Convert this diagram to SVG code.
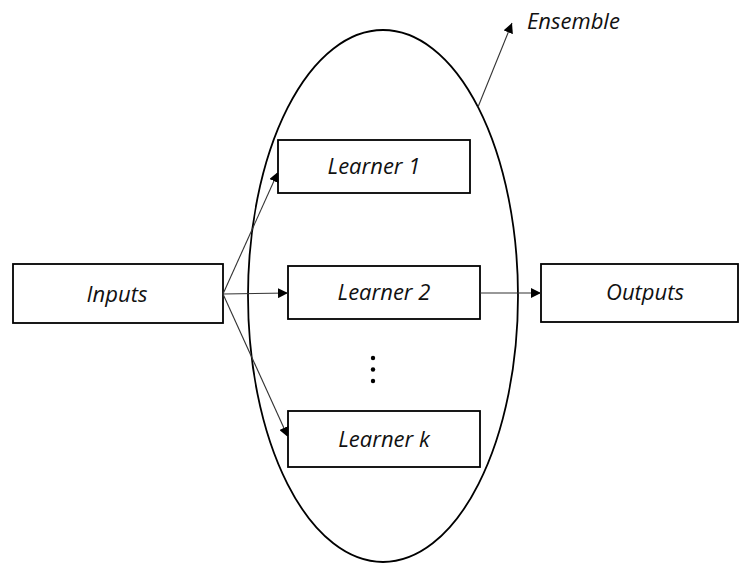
<svg xmlns="http://www.w3.org/2000/svg" width="740" height="564" viewBox="0 0 740 564">
<style>
.box{fill:#fff;stroke:#000;stroke-width:1.8}
.lbl{font-family:"Open Sans","Noto Sans",sans-serif;font-style:italic;font-size:22px;fill:#111;text-anchor:middle}
.con{stroke:#333;stroke-width:1.1;fill:none}
</style>
<defs>
<marker id="ah" viewBox="0 0 10 10" refX="10" refY="5" markerWidth="10" markerHeight="10" markerUnits="userSpaceOnUse" orient="auto">
<path d="M0,0 L10,5 L0,10 z" fill="#000"/>
</marker>
</defs>
<rect width="740" height="564" fill="#fff"/>
<g id="ensemble">
<ellipse cx="383" cy="296" rx="135" ry="266" fill="none" stroke="#000" stroke-width="1.8"/>
<text class="lbl" x="527" y="29" style="text-anchor:start">Ensemble</text>
</g>
<g id="inputs"><rect class="box" x="13" y="264" width="210" height="59"/><text class="lbl" x="117" y="302">Inputs</text></g>
<g id="learner1"><rect class="box" x="278" y="140" width="192" height="53"/><text class="lbl" x="374" y="174">Learner 1</text></g>
<g id="learner2"><rect class="box" x="288" y="266" width="192" height="53"/><text class="lbl" x="384" y="300">Learner 2</text></g>
<g id="learnerk"><rect class="box" x="288" y="411" width="192" height="56"/><text class="lbl" x="384" y="447">Learner k</text></g>
<g id="outputs"><rect class="box" x="541" y="264" width="197" height="58"/><text class="lbl" x="645" y="300">Outputs</text></g>
<g id="dots" fill="#000"><circle cx="373" cy="358" r="2.2"/><circle cx="373" cy="369.5" r="2.2"/><circle cx="373" cy="381" r="2.2"/></g>
<g id="connectors">
<line class="con" x1="223" y1="294" x2="278" y2="172" marker-end="url(#ah)"/>
<line class="con" x1="223" y1="294" x2="288" y2="293" marker-end="url(#ah)"/>
<line class="con" x1="223" y1="294" x2="288" y2="437" marker-end="url(#ah)"/>
<line class="con" x1="480" y1="293" x2="541" y2="293" marker-end="url(#ah)"/>
<line class="con" x1="478" y1="107" x2="512" y2="23" marker-end="url(#ah)"/>
</g>
</svg>
